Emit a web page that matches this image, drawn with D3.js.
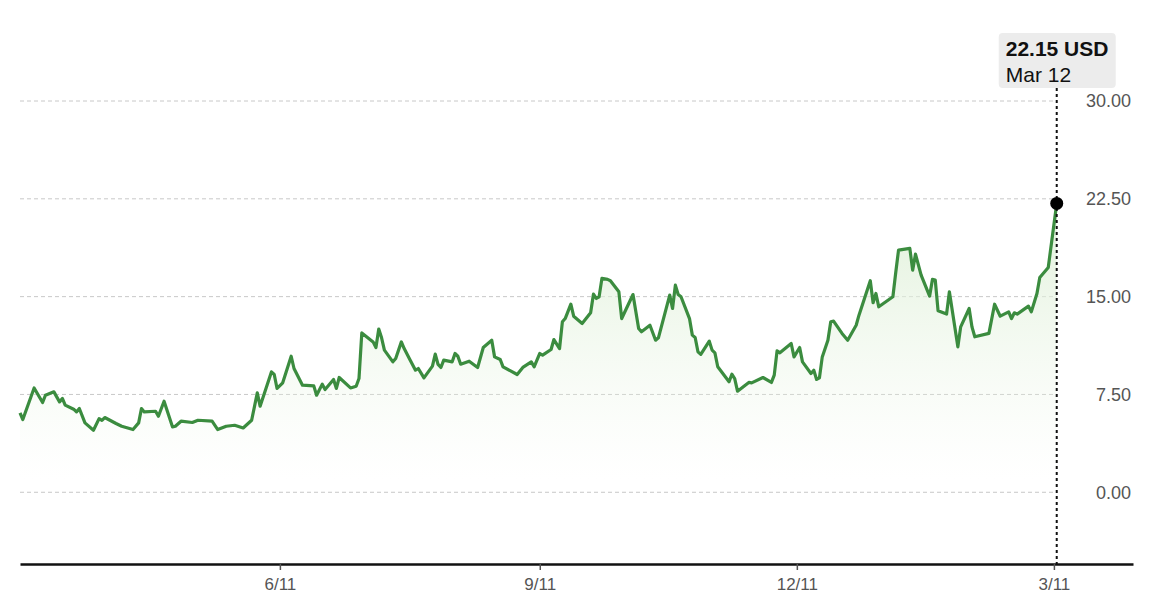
<!DOCTYPE html>
<html>
<head>
<meta charset="utf-8">
<style>
  body { margin: 0; background: #fff; }
  #chart text { font-family: "Liberation Sans", Arial, sans-serif; }
  #chart .ylab { font-size: 18px; fill: #555; }
  #chart .xlab { font-size: 17px; fill: #555; }
  #chart .grid line { stroke: #c8c8c8; stroke-dasharray: 4,3; }
</style>
</head>
<body>
<svg id="chart" width="1155" height="612"></svg>

<script src="https://cdn.jsdelivr.net/npm/d3@7/dist/d3.min.js"></script>
<script>
// prices (USD)
var dates = [
  "2023-03-11","2023-03-12","2023-03-16","2023-03-19","2023-03-20","2023-03-23","2023-03-25","2023-03-26","2023-03-27","2023-03-30",
  "2023-03-31","2023-04-01","2023-04-03","2023-04-06","2023-04-08","2023-04-09","2023-04-10","2023-04-14","2023-04-16","2023-04-20",
  "2023-04-22","2023-04-23","2023-04-24","2023-04-28","2023-04-29","2023-05-01","2023-05-04","2023-05-05","2023-05-07","2023-05-11",
  "2023-05-13","2023-05-18","2023-05-20","2023-05-23","2023-05-26","2023-05-29","2023-06-01","2023-06-03","2023-06-04","2023-06-08",
  "2023-06-09","2023-06-10","2023-06-12","2023-06-15","2023-06-16","2023-06-19","2023-06-23","2023-06-24","2023-06-26","2023-06-27",
  "2023-06-30","2023-07-01","2023-07-02","2023-07-06","2023-07-08","2023-07-09","2023-07-10","2023-07-14","2023-07-15","2023-07-16",
  "2023-07-17","2023-07-18","2023-07-21","2023-07-22","2023-07-24","2023-07-25","2023-07-27","2023-07-29","2023-07-30","2023-08-01",
  "2023-08-04","2023-08-05","2023-08-06","2023-08-07","2023-08-08","2023-08-11","2023-08-12","2023-08-13","2023-08-14","2023-08-17",
  "2023-08-20","2023-08-22","2023-08-25","2023-08-26","2023-08-28","2023-08-29","2023-09-03","2023-09-05","2023-09-08","2023-09-09",
  "2023-09-11","2023-09-12","2023-09-15","2023-09-16","2023-09-18","2023-09-19","2023-09-20","2023-09-22","2023-09-23","2023-09-26",
  "2023-09-29","2023-09-30","2023-10-01","2023-10-02","2023-10-03","2023-10-05","2023-10-06","2023-10-09","2023-10-10","2023-10-14",
  "2023-10-16","2023-10-17","2023-10-20","2023-10-22","2023-10-23","2023-10-27","2023-10-28","2023-10-29","2023-10-30","2023-10-31",
  "2023-11-03","2023-11-04","2023-11-05","2023-11-06","2023-11-07","2023-11-10","2023-11-11","2023-11-12","2023-11-13","2023-11-17",
  "2023-11-18","2023-11-19","2023-11-20","2023-11-24","2023-11-25","2023-11-29","2023-12-02","2023-12-03","2023-12-04","2023-12-05",
  "2023-12-09","2023-12-10","2023-12-12","2023-12-13","2023-12-16","2023-12-17","2023-12-18","2023-12-19","2023-12-20","2023-12-22",
  "2023-12-23","2023-12-24","2023-12-27","2023-12-29","2024-01-01","2024-01-02","2024-01-06","2024-01-07","2024-01-08","2024-01-09",
  "2024-01-14","2024-01-15","2024-01-16","2024-01-20","2024-01-21","2024-01-22","2024-01-24","2024-01-27","2024-01-28","2024-01-29",
  "2024-01-30","2024-02-02","2024-02-03","2024-02-06","2024-02-07","2024-02-10","2024-02-11","2024-02-12","2024-02-17","2024-02-19",
  "2024-02-21","2024-02-24","2024-02-25","2024-02-26","2024-02-27","2024-03-02","2024-03-03","2024-03-05","2024-03-06","2024-03-09",
  "2024-03-12"
];
var prices = [
  6.08, 5.58, 8.00, 6.88, 7.44, 7.70, 6.93, 7.19, 6.68, 6.37,
  6.16, 6.42, 5.32, 4.76, 5.65, 5.52, 5.73, 5.27, 5.06, 4.81,
  5.32, 6.42, 6.16, 6.21, 5.83, 6.98, 5.01, 5.06, 5.45, 5.35,
  5.52, 5.45, 4.81, 5.06, 5.14, 4.93, 5.52, 7.62, 6.60, 9.23,
  9.03, 7.96, 8.39, 10.43, 9.49, 8.21, 8.16, 7.44, 8.29, 7.88,
  8.65, 7.96, 8.80, 8.00, 8.13, 8.72, 12.22, 11.53, 11.10, 12.51,
  11.84, 10.90, 10.00, 10.26, 11.53, 11.02, 10.18, 9.36, 9.49, 8.77,
  9.67, 10.59, 9.80, 9.57, 10.13, 10.00, 10.64, 10.43, 9.82, 10.05,
  9.57, 11.10, 11.66, 10.38, 10.18, 9.62, 9.03, 9.57, 10.00, 9.62,
  10.64, 10.51, 10.95, 11.71, 11.02, 13.07, 13.32, 14.42, 13.50, 12.94,
  13.76, 15.19, 14.86, 14.99, 16.40, 16.32, 16.22, 15.37, 13.32, 15.16,
  12.56, 12.30, 12.81, 11.66, 11.84, 15.12, 14.09, 15.88, 15.16, 14.99,
  13.32, 12.05, 11.87, 10.77, 10.57, 11.59, 10.90, 10.69, 9.62, 8.47,
  9.05, 8.72, 7.75, 8.42, 8.39, 8.80, 8.42, 8.98, 10.84, 10.69,
  11.41, 10.38, 11.10, 10.00, 9.11, 9.36, 8.65, 8.77, 10.38, 11.66,
  13.07, 13.12, 12.18, 11.66, 12.81, 13.58, 16.22, 14.53, 15.24, 14.22,
  14.99, 16.83, 18.57, 18.70, 17.03, 18.26, 16.65, 15.04, 16.32, 16.27,
  13.91, 13.66, 15.37, 11.15, 12.68, 14.09, 12.68, 11.92, 12.18, 14.42,
  13.50, 13.83, 13.32, 13.76, 13.66, 14.27, 13.83, 15.24, 16.47, 17.24,
  22.15
];
var xTickDates = ["2023-06-11", "2023-09-11", "2023-12-11", "2024-03-11"];
var yTicks = [0, 7.5, 15, 22.5, 30];
var currency = "USD";

var parse = d3.timeParse("%Y-%m-%d");
var data = dates.map(function(d, i) { return { date: parse(d), value: prices[i] }; });
var last = data[data.length - 1];

var svg = d3.select("#chart");

var x = d3.scaleTime()
    .domain([parse("2023-03-11"), parse("2024-04-08")])
    .range([20, 1133]);
var y = d3.scaleLinear()
    .domain([-5.5, 30])
    .range([564, 101]);

// soft green fill under the line
var defs = svg.append("defs");
var grad = defs.append("linearGradient")
    .attr("id", "fade")
    .attr("gradientUnits", "userSpaceOnUse")
    .attr("x1", 0).attr("x2", 0)
    .attr("y1", y(20)).attr("y2", y(1));
grad.append("stop").attr("offset", "0%").attr("stop-color", "#dff0d8").attr("stop-opacity", 0.8);
grad.append("stop").attr("offset", "100%").attr("stop-color", "#eef7ea").attr("stop-opacity", 0);

// gridlines
var grid = svg.append("g").attr("class", "grid");
grid.selectAll("line")
    .data(yTicks)
    .enter().append("line")
      .attr("x1", 20)
      .attr("x2", x(last.date))
      .attr("y1", function(d) { return y(d); })
      .attr("y2", function(d) { return y(d); });

svg.append("g").selectAll("text")
    .data(yTicks)
    .enter().append("text")
      .attr("class", "ylab")
      .attr("x", 1131)
      .attr("y", function(d) { return y(d); })
      .attr("dy", "0.35em")
      .attr("text-anchor", "end")
      .text(function(d) { return d3.format(".2f")(d); });

var area = d3.area()
    .x(function(d) { return x(d.date); })
    .y0(y(-5.5))
    .y1(function(d) { return y(d.value); });

var line = d3.line()
    .x(function(d) { return x(d.date); })
    .y(function(d) { return y(d.value); });

svg.append("path")
    .datum(data)
    .attr("d", area)
    .attr("fill", "url(#fade)");

svg.append("path")
    .datum(data)
    .attr("d", line)
    .attr("fill", "none")
    .attr("stroke", "#3b8c3f")
    .attr("stroke-width", 3.2)
    .attr("stroke-linejoin", "round");

// x axis
var xAxis = d3.axisBottom(x)
    .tickValues(xTickDates.map(parse))
    .tickSizeInner(6)
    .tickSizeOuter(0)
    .tickPadding(8)
    .tickFormat(d3.timeFormat("%-m/%-d"));

var gx = svg.append("g")
    .attr("transform", "translate(0," + y(-5.5) + ")")
    .call(xAxis);
gx.select(".domain").attr("stroke", "#111").attr("stroke-width", 2.5);
gx.selectAll(".tick line").attr("stroke", "#555").attr("stroke-width", 1.5);
gx.selectAll(".tick text").attr("class", "xlab").attr("font-size", null).attr("font-family", null);

// hover marker on the latest value
var hx = x(last.date);
svg.append("line")
    .attr("x1", hx).attr("x2", hx)
    .attr("y1", 88).attr("y2", y(-5.5))
    .attr("stroke", "#111")
    .attr("stroke-width", 2)
    .attr("stroke-dasharray", "3,3");

svg.append("circle")
    .attr("cx", hx)
    .attr("cy", y(last.value))
    .attr("r", 6.5)
    .attr("fill", "#000");

var tip = svg.append("g").attr("transform", "translate(" + (hx - 58) + ",33)");
tip.append("rect")
    .attr("width", 117)
    .attr("height", 55)
    .attr("rx", 4)
    .attr("fill", "#ececec");
tip.append("text")
    .attr("x", 7).attr("y", 23)
    .attr("font-size", 21)
    .attr("font-weight", "bold")
    .attr("fill", "#111")
    .text(d3.format(".2f")(last.value) + " " + currency);
tip.append("text")
    .attr("x", 7).attr("y", 49)
    .attr("font-size", 21)
    .attr("fill", "#111")
    .text(d3.timeFormat("%b %-d")(last.date));
</script>
</body>
</html>
